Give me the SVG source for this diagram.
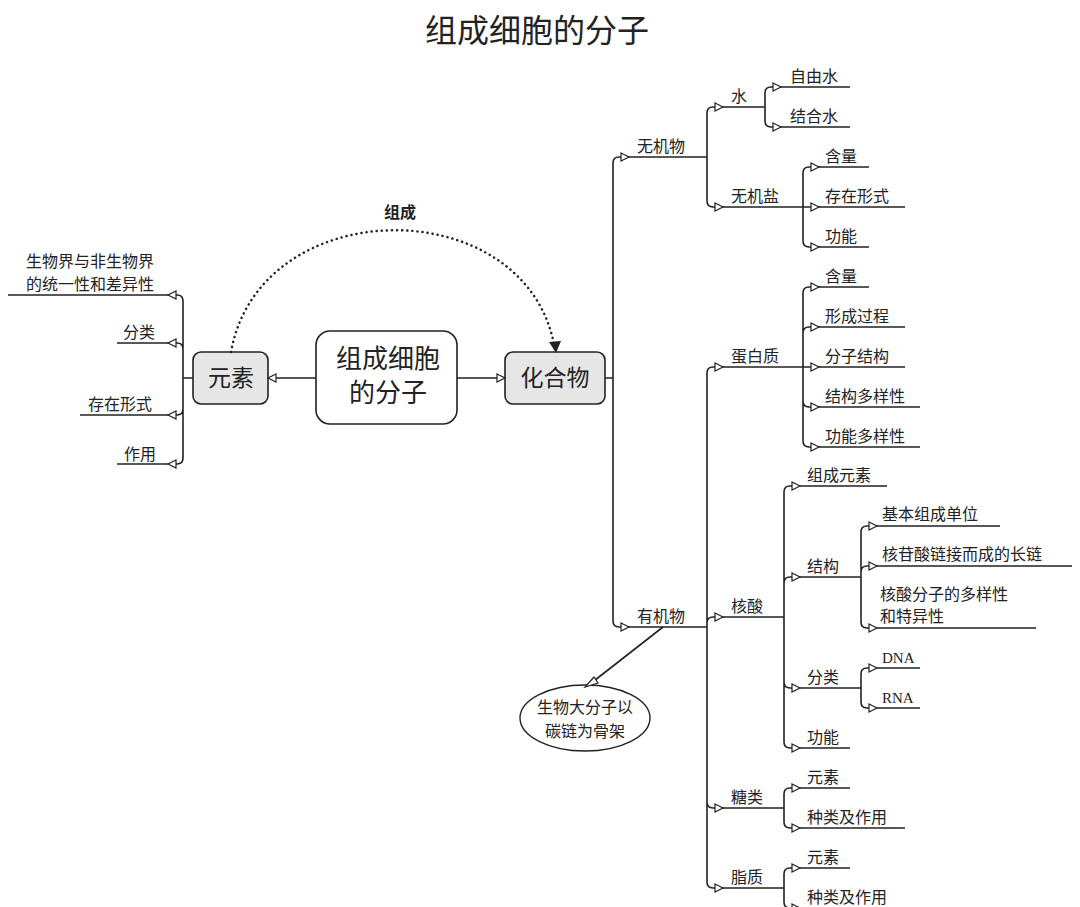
<svg xmlns="http://www.w3.org/2000/svg" width="1080" height="907" viewBox="0 0 1080 907">
<style>
text{font-family:"Noto Sans CJK SC","Noto Sans",sans-serif;fill:#222;font-size:16px}
.t{font-size:32px}
.c{font-size:23px;text-anchor:middle}
.cc{font-size:26px;text-anchor:middle}
.lat{font-family:"Liberation Serif",serif;font-size:15px}
.ln{fill:none;stroke:#222;stroke-width:1.6}
.ah{fill:#fff;stroke:#222;stroke-width:1.2}
.box{fill:#e6e6e6;stroke:#222;stroke-width:1.6}
</style>
<rect width="1080" height="907" fill="#fff"/>
<text class="t" x="537" y="42" text-anchor="middle">组成细胞的分子</text>

<g id="center"><rect x="316" y="331" width="141" height="93" rx="14" fill="#fff" stroke="#222" stroke-width="1.6"/><text class="cc" x="388" y="368">组成细胞</text><text class="cc" x="388" y="402">的分子</text></g>
<g id="yuansu"><rect class="box" x="193" y="352" width="75" height="52" rx="8"/><text class="c" x="231" y="386">元素</text></g>
<g id="huahewu"><rect class="box" x="505" y="352" width="100" height="52" rx="8"/><text class="c" x="555" y="386">化合物</text></g>
<g id="ellipse"><ellipse cx="585" cy="718" rx="65" ry="33" fill="#fff" stroke="#222" stroke-width="1.4"/><text x="585" y="713" text-anchor="middle">生物大分子以</text><text x="585" y="737" text-anchor="middle">碳链为骨架</text></g>

<g id="connectors">
<path class="ln" d="M316,378H268M457,378H505"/>
<polygon class="ah" points="276,374 268,378 276,382"/>
<polygon class="ah" points="497,374 505,378 497,382"/>
<path d="M231,352 C260,190 530,190 555,350" fill="none" stroke="#222" stroke-width="2.5" stroke-dasharray="0.1,5" stroke-linecap="round"/>
<polygon points="549,342 556,353 561,341" fill="#222"/>
<path class="ln" d="M663,627 L590,684"/>
<polygon class="ah" points="594,677 585,687 598,683"/>
<path class="ln" d="M193,378H183M183,378V301Q183,295 177,295H8M183,378V349Q183,343 177,343H117M183,378V409Q183,415 177,415H80M183,378V458Q183,464 177,464H117"/>
<g class="ah"><polygon points="176,291 168,295 176,299"/><polygon points="176,339 168,343 176,347"/><polygon points="176,411 168,415 176,419"/><polygon points="176,460 168,464 176,468"/></g>
<path class="ln" d="M605,378H613M613,378V163Q613,157 619,157H707M613,378V621Q613,627 619,627H707
M707,157V113Q707,107 713,107H765M707,157V201Q707,207 713,207H905
M765,107V93Q765,87 771,87H850M765,107V121Q765,127 771,127H850
M803,207V173Q803,167 809,167H869M803,207V241Q803,247 809,247H869
M707,627V373Q707,367 713,367H803M707,627V623Q707,617 713,617H784M707,627V802Q707,808 713,808H784M707,627V882Q707,888 713,888H784
M803,367V293Q803,287 809,287H869M803,367V333Q803,327 809,327H905M803,367H905M803,367V401Q803,407 809,407H920M803,367V441Q803,447 809,447H920
M784,617V492Q784,486 790,486H887M784,617V583Q784,577 790,577H861M784,617V682Q784,688 790,688H861M784,617V742Q784,748 790,748H850
M861,577V532Q861,526 867,526H1000M861,577V572Q861,566 867,566H1072M861,577V622Q861,628 867,628H1036
M861,688V674Q861,668 867,668H920M861,688V702Q861,708 867,708H920
M784,808V794Q784,788 790,788H850M784,808V822Q784,828 790,828H905
M784,888V874Q784,868 790,868H850M784,888V902Q784,908 790,908H905"/>
<g class="ah">
<polygon points="621,153 629,157 621,161"/><polygon points="621,623 629,627 621,631"/>
<polygon points="715,103 723,107 715,111"/><polygon points="715,203 723,207 715,211"/>
<polygon points="773,83 781,87 773,91"/><polygon points="773,123 781,127 773,131"/>
<polygon points="811,163 819,167 811,171"/><polygon points="811,203 819,207 811,211"/><polygon points="811,243 819,247 811,251"/>
<polygon points="715,363 723,367 715,371"/><polygon points="715,613 723,617 715,621"/><polygon points="715,804 723,808 715,812"/><polygon points="715,884 723,888 715,892"/>
<polygon points="811,283 819,287 811,291"/><polygon points="811,323 819,327 811,331"/><polygon points="811,363 819,367 811,371"/><polygon points="811,403 819,407 811,411"/><polygon points="811,443 819,447 811,451"/>
<polygon points="792,482 800,486 792,490"/><polygon points="792,573 800,577 792,581"/><polygon points="792,684 800,688 792,692"/><polygon points="792,744 800,748 792,752"/>
<polygon points="869,522 877,526 869,530"/><polygon points="869,562 877,566 869,570"/><polygon points="869,624 877,628 869,632"/>
<polygon points="869,664 877,668 869,672"/><polygon points="869,704 877,708 869,712"/>
<polygon points="792,784 800,788 792,792"/><polygon points="792,824 800,828 792,832"/>
<polygon points="792,864 800,868 792,872"/><polygon points="792,904 800,908 792,912"/>
</g>
</g>

<g id="labels">
<text x="400" y="218" text-anchor="middle" style="font-weight:bold">组成</text>
<text x="26" y="267">生物界与非生物界</text><text x="26" y="290">的统一性和差异性</text>
<text x="123" y="338">分类</text><text x="88" y="410">存在形式</text><text x="124" y="460">作用</text>
<text x="637" y="152">无机物</text><text x="637" y="622">有机物</text>
<text x="731" y="102">水</text><text x="731" y="202">无机盐</text>
<text x="790" y="82">自由水</text><text x="790" y="122">结合水</text>
<text x="825" y="162">含量</text><text x="825" y="202">存在形式</text><text x="825" y="242">功能</text>
<text x="731" y="362">蛋白质</text>
<text x="825" y="282">含量</text><text x="825" y="322">形成过程</text><text x="825" y="362">分子结构</text><text x="825" y="402">结构多样性</text><text x="825" y="442">功能多样性</text>
<text x="731" y="612">核酸</text>
<text x="807" y="481">组成元素</text><text x="807" y="572">结构</text><text x="807" y="683">分类</text><text x="807" y="743">功能</text>
<text x="882" y="520">基本组成单位</text><text x="882" y="560">核苷酸链接而成的长链</text>
<text x="880" y="600">核酸分子的多样性</text><text x="880" y="622">和特异性</text>
<text class="lat" x="882" y="663">DNA</text><text class="lat" x="882" y="703">RNA</text>
<text x="731" y="803">糖类</text><text x="807" y="783">元素</text><text x="807" y="823">种类及作用</text>
<text x="731" y="883">脂质</text><text x="807" y="863">元素</text><text x="807" y="903">种类及作用</text>
</g>
</svg>
